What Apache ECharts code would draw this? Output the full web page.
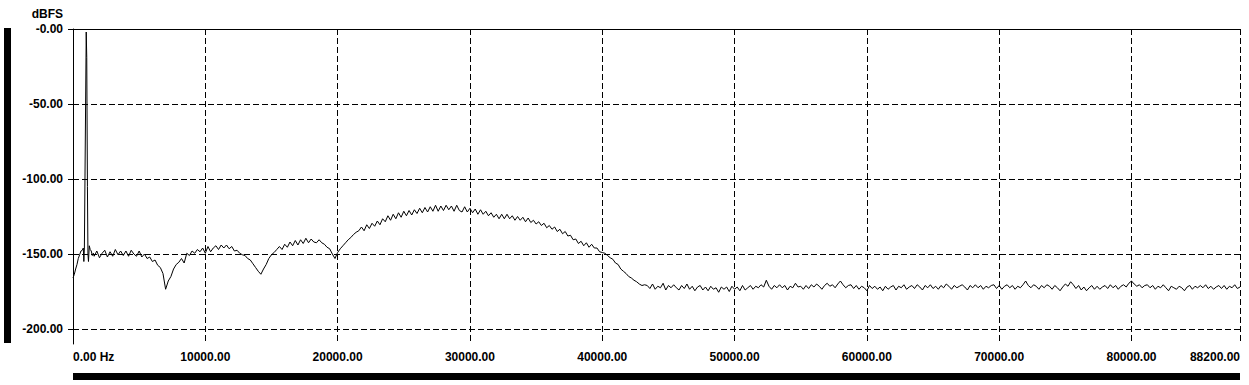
<!DOCTYPE html>
<html>
<head>
<meta charset="utf-8">
<script src="https://cdn.jsdelivr.net/npm/echarts@6/dist/echarts.min.js"></script>
<style>
html,body{margin:0;padding:0;background:#fff;}
#chart{width:1249px;height:385px;}
</style>
</head>
<body>
<div id="chart"></div>
<script>
// ---- data ----
const yTicks = [0, -50, -100, -150, -200];
const xTicks = [0, 10000, 20000, 30000, 40000, 50000, 60000, 70000, 80000, 88200];
const yUnit = 'dBFS';

// low-frequency region around the test tone (Hz, dBFS)
const peakFreqs = [0, 100, 200, 300, 400, 500, 600, 700, 780, 820, 860, 1000, 1040, 1090, 1130, 1170, 1230, 1300, 1380, 1460, 1540];
const peakDb    = [-166, -163.5, -160, -157, -153, -150.5, -148, -147.5, -146, -155, -146, -2, -19, -105, -150, -155, -144.5, -147, -148, -151, -149.5];

// rest of spectrum, every 200 Hz starting at 1600 Hz
const spectrumStartHz = 1600;
const spectrumStepHz = 200;
const spectrumDb = [
  -151.5, -148, -152.5, -149.5, -147.5, -152, -148.5, -151.5, -147, -150.5,
  -148, -151, -148, -151.5, -147.5, -150, -151.5, -148, -152, -150,
  -153, -152, -155, -154, -157.5, -159, -163, -173.5, -168, -165,
  -160, -157, -155.5, -153, -156, -149.5, -151, -148, -149.5, -147,
  -148.5, -146, -149.5, -145, -148.5, -146, -144.5, -147, -144, -146,
  -144, -146.5, -145, -148, -147.5, -149.5, -150.5, -151, -153, -154,
  -156.5, -159, -161.5, -163.5, -160, -157, -153, -150.5, -149, -147,
  -145, -147, -143.5, -145.5, -142, -144.5, -141, -144, -140.5, -143,
  -139.5, -142.5, -140, -142, -142.5, -140.5, -142.5, -143.5, -145.5, -146.5,
  -150, -153, -149, -146.5, -144.5, -142.5, -140.5, -139, -137, -135.5,
  -134.5, -132, -134.5, -130.5, -133, -129.5, -131.5, -128, -130.5, -126.5,
  -128.5, -124.5, -127.5, -123.5, -126.5, -122.5, -125.5, -121.5, -124.5, -121,
  -124, -120.5, -123, -119.5, -122.5, -119, -122, -118.5, -121.5, -117.5,
  -121.5, -118, -121, -117.5, -120.5, -118, -121.5, -117.5, -121, -122,
  -118.5, -122, -119.5, -122.5, -120, -123.5, -120.5, -123.5, -121.5, -124.5,
  -122.5, -125.5, -123.5, -126.5, -123.5, -126.5, -123.5, -126.5, -124.5, -127.5,
  -125, -127.5, -125.5, -128.5, -126, -129, -127.5, -130, -128.5, -131,
  -129.5, -132.5, -131, -133.5, -132, -135, -133.5, -136.5, -135, -138,
  -137.5, -140.5, -140, -143, -141.5, -144.5, -142.5, -145.5, -143.5, -146,
  -146, -148.5, -149, -149.5, -151, -152.5, -153.5, -156, -157, -160,
  -161.5, -163, -165, -166, -167.5, -168.5, -170, -171, -170.5,
  -171, -173, -170, -173.5, -171.5, -172.5, -169.5, -174, -171, -172.5,
  -170.5, -172.5, -174, -171, -173, -170, -173.5, -171.5, -174.5, -172,
  -171, -174, -172, -174.5, -171.5, -173.5, -172.5, -175.5, -172, -173.5,
  -172, -175, -171.5, -173.5, -172, -174.5, -171, -174, -172.5, -171,
  -173.5, -171.5, -172.5, -170.5, -172, -167.5, -171.5, -173.5, -171, -172.5,
  -170.5, -172.5, -171, -174, -171.5, -172.5, -169.5, -172, -171.5, -173.5,
  -171, -173, -170.5, -172, -170, -171.5, -173.5, -171, -169.5, -171.5,
  -170.5, -172.5, -170, -168, -170.5, -172.5, -171, -170.5, -173, -171,
  -173.5, -171.5, -172.5, -174.5, -171, -173, -171.5, -173.5, -172, -174.5,
  -171.5, -173.5, -172, -171, -174, -171.5, -172.5, -170.5, -173.5, -172,
  -171, -173, -170.5, -172, -174, -171, -172.5, -170.5, -173, -171.5,
  -173.5, -171, -172.5, -170, -171.5, -173.5, -171, -172.5, -171.5, -170.5,
  -172, -174, -171, -172.5, -170.5, -172.5, -171, -173.5, -171.5, -172.5,
  -171, -170.5, -173, -171, -173.5, -171.5, -170.5, -172.5, -171, -173.5,
  -171.5, -172.5, -170.5, -168, -171, -172.5, -170.5, -171.5, -173.5, -171,
  -172.5, -170.5, -171.5, -173.5, -171, -172.5, -174.5, -172, -170, -171.5,
  -168.5, -170.5, -173, -171, -174, -172, -174.5, -172.5, -171, -173.5,
  -171.5, -173.5, -172, -171, -173, -170.5, -172.5, -171, -173.5, -171.5,
  -170.5, -172, -169.5, -168, -170, -171.5, -170.5, -172.5, -171, -170.5,
  -172.5, -171, -173.5, -171.5, -172.5, -170.5, -172.5, -174.5, -171.5, -172.5,
  -173.5, -171.5, -172.5, -174.5, -172, -171, -173.5, -171.5, -172.5, -171,
  -172.5, -170.5, -173, -171.5, -173.5, -172, -171, -173, -171, -173.5,
  -171.5, -172.5, -170.5, -173, -172
];

// ---- build series ----
const seriesData = [];
for (let i = 0; i < peakFreqs.length; i++) seriesData.push([peakFreqs[i], peakDb[i]]);
for (let i = 0; i < spectrumDb.length; i++) seriesData.push([spectrumStartHz + i * spectrumStepHz, spectrumDb[i]]);

const FONT = 'Liberation Sans, Arial, sans-serif';
const chart = echarts.init(document.getElementById('chart'), null, {renderer: 'svg'});
const dash = [6, 3];

chart.setOption({
  animation: false,
  backgroundColor: '#ffffff',
  grid: {left: 73, right: 9, top: 29, bottom: 41, containLabel: false},
  xAxis: {
    type: 'value', min: 0, max: 88200,
    axisLine: {show: true, lineStyle: {color: '#000', width: 1}},
    axisTick: {show: true, length: 5, customValues: xTicks, lineStyle: {color: '#000'}},
    axisLabel: {
      customValues: xTicks, margin: 7,
      color: '#000', fontFamily: FONT, fontSize: 12, fontWeight: 'bold',
      alignMinLabel: 'left', alignMaxLabel: 'right',
      formatter: v => v === 0 ? '0.00 Hz' : v.toFixed(2)
    },
    splitLine: {show: true, lineStyle: {color: '#000', type: dash, width: 1}}
  },
  yAxis: {
    type: 'value', min: -210, max: 0,
    name: yUnit, nameLocation: 'end', nameGap: 9,
    nameTextStyle: {color: '#000', fontFamily: FONT, fontSize: 12, fontWeight: 'bold', align: 'right', padding: [0, 10, 0, 0]},
    axisLine: {show: true, onZero: false, lineStyle: {color: '#000', width: 1}},
    axisTick: {show: true, length: 5, customValues: yTicks, lineStyle: {color: '#000'}},
    axisLabel: {
      customValues: yTicks, margin: 10,
      color: '#000', fontFamily: FONT, fontSize: 12, fontWeight: 'bold',
      formatter: v => v === 0 ? '-0.00' : v.toFixed(2)
    },
    splitLine: {show: true, lineStyle: {color: '#000', type: dash, width: 1}}
  },
  graphic: [
    {type: 'rect', left: 4, top: 28, shape: {width: 7, height: 315}, style: {fill: '#000'}, silent: true},
    {type: 'rect', left: 73, top: 373, shape: {width: 1167, height: 7}, style: {fill: '#000'}, silent: true}
  ],
  series: [{
    type: 'line',
    data: seriesData,
    showSymbol: false,
    symbol: 'none',
    smooth: false,
    lineStyle: {color: '#000', width: 1},
    z: 3
  }]
});
</script>
</body>
</html>
